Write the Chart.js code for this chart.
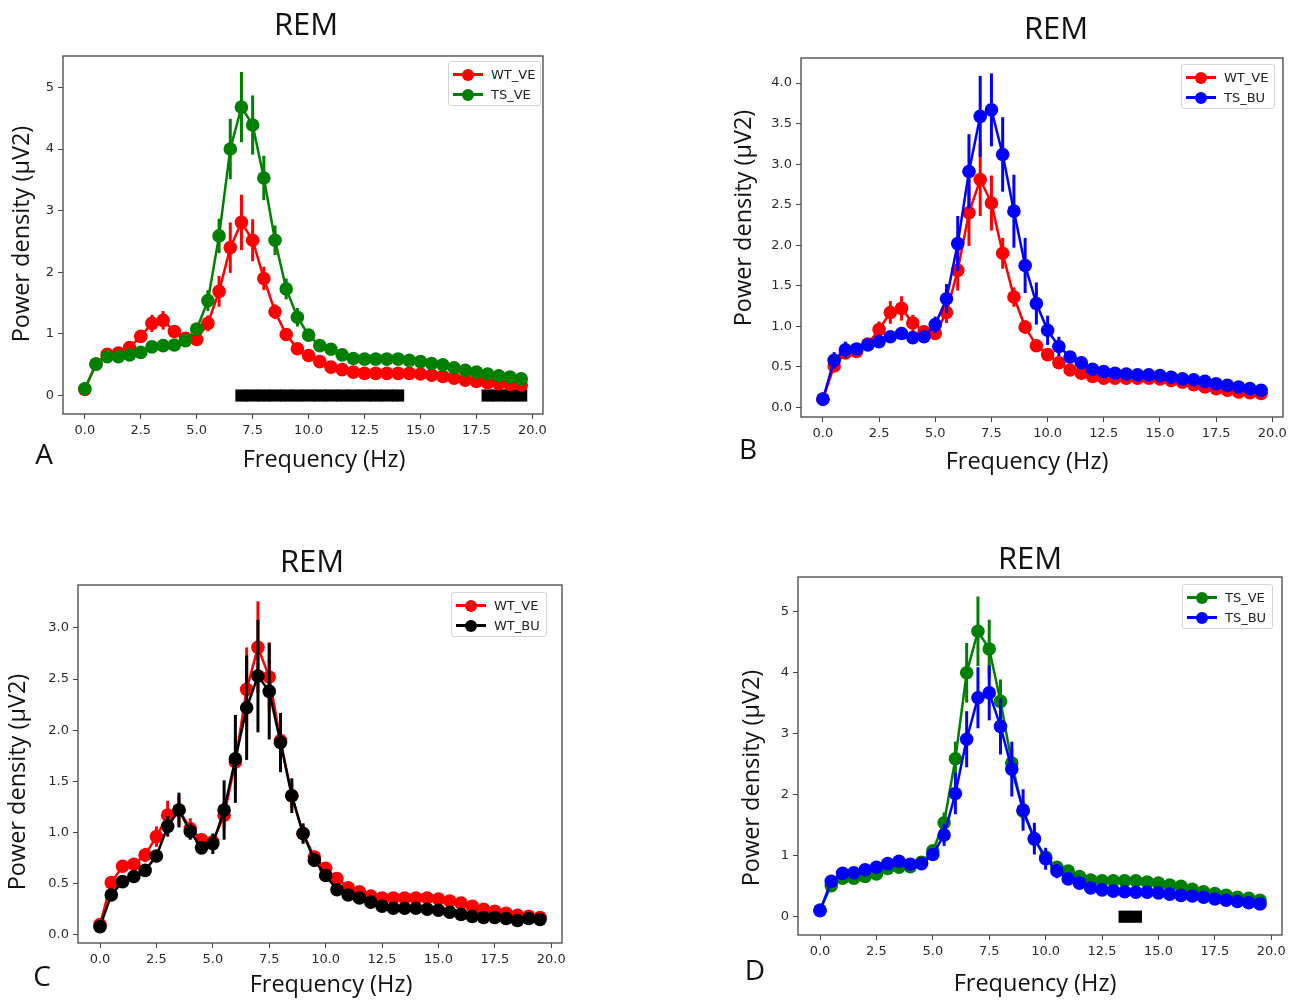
<!DOCTYPE html>
<html><head><meta charset="utf-8">
<script src="https://cdn.jsdelivr.net/npm/chart.js@4.4.1/dist/chart.umd.min.js"></script>
<style>
html,body{margin:0;padding:0;background:#fff;overflow:hidden;width:1301px;height:1003px;}
canvas{position:absolute;}
.t{position:absolute;font-family:"Open Sans",sans-serif;color:#111;white-space:nowrap;line-height:1;transform:translate(-50%,-50%);}
.ttl{font-size:31px;}
.ax{font-size:23.5px;}
.yl{transform:translate(-50%,-50%) rotate(-90deg);}
.let{font-size:28px;}
.lg{position:absolute;border:1px solid #d4d4d4;border-radius:3px;background:rgba(255,255,255,0.85);box-sizing:border-box;}
.lr{position:absolute;left:0;height:0;width:100%;}
.ll{position:absolute;left:4px;width:30px;height:3px;top:-1.5px;}
.lm{position:absolute;left:13px;width:12px;height:12px;border-radius:50%;top:-6px;}
.lt{position:absolute;left:42px;top:-8px;font-family:"DejaVu Sans",sans-serif;font-size:13px;color:#222;line-height:16px;}
</style></head>
<body>
<script>
// ---------------- data ----------------
const freq = [0,0.5,1,1.5,2,2.5,3,3.5,4,4.5,5,5.5,6,6.5,7,7.5,8,8.5,9,9.5,10,10.5,11,11.5,12,12.5,13,13.5,14,14.5,15,15.5,16,16.5,17,17.5,18,18.5,19,19.5];

const wtVE    = [0.10,0.51,0.67,0.69,0.78,0.96,1.17,1.22,1.04,0.93, 0.91,1.17,1.69,2.40,2.81,2.52,1.90,1.36,0.99,0.76, 0.65,0.55,0.46,0.42,0.38,0.36,0.36,0.36,0.36,0.36, 0.35,0.33,0.31,0.28,0.25,0.23,0.21,0.19,0.18,0.17];
const wtVEerr = [0.02,0.05,0.05,0.04,0.07,0.10,0.14,0.15,0.10,0.05, 0.07,0.13,0.25,0.41,0.45,0.34,0.19,0.12,0.08,0.05, 0.04,0.03,0.02,0.02,0.02,0.02,0.02,0.02,0.02,0.02, 0.02,0.02,0.02,0.02,0.02,0.02,0.02,0.02,0.02,0.02];

const tsVE    = [0.11,0.51,0.63,0.63,0.66,0.70,0.79,0.81,0.82,0.89, 1.08,1.54,2.59,4.00,4.68,4.39,3.53,2.52,1.73,1.27, 0.98,0.81,0.75,0.66,0.60,0.59,0.59,0.59,0.59,0.57, 0.55,0.52,0.50,0.45,0.41,0.38,0.35,0.32,0.30,0.27];
const tsVEerr = [0.02,0.06,0.06,0.05,0.05,0.05,0.04,0.04,0.04,0.04, 0.08,0.17,0.28,0.49,0.57,0.48,0.36,0.24,0.17,0.15, 0.08,0.05,0.03,0.03,0.03,0.03,0.03,0.03,0.03,0.03, 0.03,0.03,0.03,0.03,0.03,0.03,0.03,0.03,0.03,0.03];

const tsBU    = [0.10,0.58,0.71,0.72,0.77,0.81,0.87,0.91,0.86,0.87, 1.02,1.34,2.02,2.91,3.59,3.67,3.12,2.42,1.75,1.28, 0.95,0.75,0.62,0.55,0.47,0.44,0.42,0.41,0.40,0.40, 0.39,0.37,0.35,0.34,0.32,0.29,0.27,0.25,0.23,0.21];
const tsBUerr = [0.02,0.10,0.10,0.07,0.07,0.07,0.06,0.05,0.04,0.04, 0.10,0.18,0.34,0.46,0.50,0.45,0.46,0.45,0.34,0.26, 0.18,0.12,0.07,0.05,0.03,0.03,0.03,0.03,0.03,0.03, 0.03,0.03,0.03,0.03,0.03,0.03,0.03,0.03,0.03,0.03];

const wtBU    = [0.08,0.39,0.52,0.57,0.63,0.77,1.06,1.22,1.01,0.85, 0.89,1.22,1.72,2.22,2.53,2.38,1.88,1.36,0.99,0.73, 0.58,0.44,0.39,0.36,0.32,0.28,0.26,0.26,0.26,0.25, 0.24,0.22,0.20,0.18,0.17,0.17,0.16,0.14,0.16,0.15];
const wtBUerr = [0.02,0.05,0.04,0.04,0.05,0.06,0.10,0.17,0.08,0.05, 0.10,0.29,0.43,0.51,0.55,0.47,0.29,0.17,0.10,0.06, 0.04,0.02,0.02,0.02,0.02,0.02,0.02,0.02,0.02,0.02, 0.02,0.02,0.02,0.02,0.02,0.02,0.02,0.02,0.02,0.02];

// significance markers (frequencies)
const sigA = [7,7.5,8,8.5,9,9.5,10,10.5,11,11.5,12,12.5,13,13.5,14,18,18.5,19,19.5];
const sigD = [13.5,14];

const xTicks  = [0,2.5,5,7.5,10,12.5,15,17.5,20];
const yTicksA = [0,1,2,3,4,5];
const yTicksB = [0,0.5,1,1.5,2,2.5,3,3.5,4];
const yTicksC = [0,0.5,1,1.5,2,2.5,3];
const yTicksD = [0,1,2,3,4,5];

const panelTitle = 'REM';
const xTitle = 'Frequency (Hz)';
const yTitle = 'Power density (µV2)';
const panelLetters = ['A','B','C','D'];

// ---------------- drawing ----------------
const S = {
  WT_VE: {label:'WT_VE', y:wtVE, err:wtVEerr, color:'#ff0000'},
  TS_VE: {label:'TS_VE', y:tsVE, err:tsVEerr, color:'#008000'},
  TS_BU: {label:'TS_BU', y:tsBU, err:tsBUerr, color:'#0000ff'},
  WT_BU: {label:'WT_BU', y:wtBU, err:wtBUerr, color:'#000000'}
};

const errorBarPlugin = {
  id:'errbars',
  beforeDatasetDraw(chart, args){
    const ds = chart.data.datasets[args.index];
    if(!ds.err) return;
    const ctx = chart.ctx, xs = chart.scales.x, ys = chart.scales.y, a = chart.chartArea;
    ctx.save();
    ctx.beginPath(); ctx.rect(a.left, a.top, a.right-a.left, a.bottom-a.top); ctx.clip();
    ctx.strokeStyle = ds.borderColor; ctx.lineWidth = 3;
    ds.data.forEach((p,i)=>{
      const x = xs.getPixelForValue(p.x);
      ctx.beginPath();
      ctx.moveTo(x, ys.getPixelForValue(p.y - ds.err[i]));
      ctx.lineTo(x, ys.getPixelForValue(p.y + ds.err[i]));
      ctx.stroke();
    });
    ctx.restore();
  }
};
const framePlugin = {
  id:'frame',
  afterDraw(chart){
    const a = chart.chartArea, ctx = chart.ctx;
    ctx.save(); ctx.strokeStyle = '#444'; ctx.lineWidth = 1.3;
    ctx.strokeRect(a.left, a.top, a.right-a.left, a.bottom-a.top);
    ctx.restore();
  }
};

function addText(txt, cls, x, y){
  const d = document.createElement('div');
  d.className = 't ' + cls; d.textContent = txt;
  d.style.left = x + 'px'; d.style.top = y + 'px';
  document.body.appendChild(d);
}

function addLegend(series, box){
  const lg = document.createElement('div');
  lg.className = 'lg';
  Object.assign(lg.style, {left:box.l+'px', top:box.t+'px', width:box.w+'px', height:'45px'});
  series.forEach((s,i)=>{
    const r = document.createElement('div'); r.className='lr'; r.style.top = (12.5 + 20*i) + 'px';
    r.innerHTML = '<div class="ll" style="background:'+s.color+'"></div><div class="lm" style="background:'+s.color+'"></div><div class="lt">'+s.label+'</div>';
    lg.appendChild(r);
  });
  document.body.appendChild(lg);
}

function makePanel(p){
  const padR = 18;
  const c = document.createElement('canvas');
  const W = p.f.r - p.f.l + 60 + padR, H = p.f.b - p.f.t + 20 + 45;
  c.width = W; c.height = H;
  c.style.left = (p.f.l - 60) + 'px'; c.style.top = (p.f.t - 20) + 'px';
  c.style.width = W + 'px'; c.style.height = H + 'px';
  document.body.appendChild(c);

  const datasets = p.series.map((s,k)=>({
    label:s.label,
    data: freq.map((f,i)=>({x:f, y:s.y[i]})),
    err: s.err,
    borderColor:s.color, backgroundColor:s.color,
    borderWidth:2.5, pointRadius:6.8, pointHoverRadius:6.8, pointBorderWidth:0,
    showLine:true, tension:0, order: p.series.length - k
  }));
  if(p.sig){
    datasets.push({label:'sig', data:p.sig.map(f=>({x:f,y:0})), pointStyle:'rect',
      pointRadius:8.6, pointHoverRadius:8.6, pointBorderWidth:0, backgroundColor:'#000', borderColor:'#000',
      showLine:false, order:10});
  }
  const tickFont = {family:'DejaVu Sans', size:13};
  new Chart(c, {
    type:'scatter',
    data:{datasets},
    options:{
      responsive:false, animation:false, devicePixelRatio:1,
      layout:{padding:{left:0, top:20, right:padR, bottom:0}},
      plugins:{legend:{display:false}, tooltip:{enabled:false}},
      events:[],
      scales:{
        x:{type:'linear', min:-0.975, max:20.475,
          afterBuildTicks:s=>{ s.ticks = xTicks.map(v=>({value:v})); },
          afterFit:s=>{ s.height = 45; },
          ticks:{callback:v=>Number(v).toFixed(1), font:tickFont, color:'#2a2a2a', padding:4, autoSkip:false, maxRotation:0},
          grid:{drawOnChartArea:false, drawTicks:true, tickLength:5, color:'#444', lineWidth:1},
          border:{display:false}},
        y:{type:'linear', min:p.ymin, max:p.ymax,
          afterBuildTicks:s=>{ s.ticks = p.yTicks.map(v=>({value:v})); },
          afterFit:s=>{ s.width = 60; },
          ticks:{callback:v=>Number(v).toFixed(p.dec), font:tickFont, color:'#2a2a2a', padding:4, autoSkip:false},
          grid:{drawOnChartArea:false, drawTicks:true, tickLength:5, color:'#444', lineWidth:1},
          border:{display:false}}
      }
    },
    plugins:[errorBarPlugin, framePlugin]
  });

  addText(panelTitle, 'ttl', p.title[0], p.title[1]);
  addText(xTitle, 'ax', p.xt[0], p.xt[1]);
  addText(yTitle, 'ax yl', p.yt[0], p.yt[1]);
  addText(p.letter, 'let', p.lt[0], p.lt[1]);
  addLegend(p.series, p.lg);
}

const panels = [
  {f:{l:63,t:56,r:543,b:414}, ymin:-0.30, ymax:5.51, yTicks:yTicksA, dec:0, series:[S.WT_VE,S.TS_VE], sig:sigA,
   title:[306,23], xt:[324,458.5], yt:[20.5,234], letter:panelLetters[0], lt:[44,453], lg:{l:448,t:61,w:93}},
  {f:{l:801,t:58,r:1283,b:417}, ymin:-0.12, ymax:4.31, yTicks:yTicksB, dec:1, series:[S.WT_VE,S.TS_BU], sig:null,
   title:[1056,27], xt:[1027,460.5], yt:[742.5,218], letter:panelLetters[1], lt:[748,448], lg:{l:1181,t:64,w:94}},
  {f:{l:78,t:585,r:562,b:943}, ymin:-0.08, ymax:3.42, yTicks:yTicksC, dec:1, series:[S.WT_VE,S.WT_BU], sig:null,
   title:[312,560], xt:[331,983.5], yt:[16.5,782], letter:panelLetters[2], lt:[42,975], lg:{l:451,t:592,w:96}},
  {f:{l:798,t:577,r:1282,b:935}, ymin:-0.30, ymax:5.57, yTicks:yTicksD, dec:0, series:[S.TS_VE,S.TS_BU], sig:sigD,
   title:[1030,557], xt:[1035,982.5], yt:[750.5,778], letter:panelLetters[3], lt:[755,969], lg:{l:1182,t:584,w:91}}
];
panels.forEach(makePanel);
</script>
</body></html>
